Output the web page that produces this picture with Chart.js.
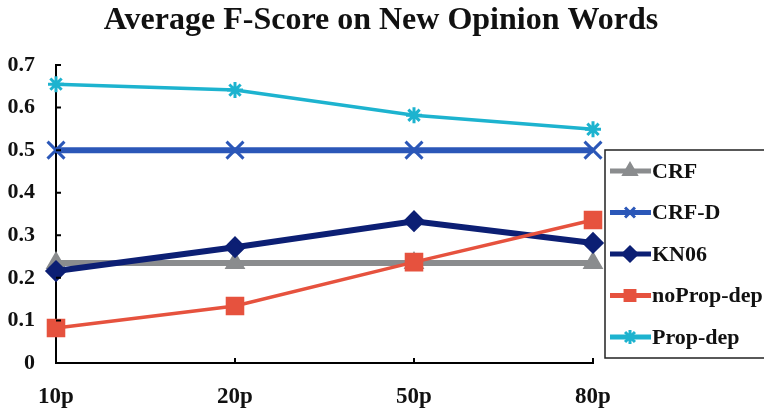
<!DOCTYPE html>
<html>
<head>
<meta charset="utf-8">
<script src="https://cdn.jsdelivr.net/npm/chart.js@4/dist/chart.umd.min.js"></script>
<style>
  body { margin: 0; background: #fff; }
  #wrap { width: 764px; height: 414px; }
</style>
</head>
<body>
<div id="wrap"><canvas id="chart" width="764" height="414"></canvas></div>
<script>
const labels = ['10p', '20p', '50p', '80p'];
const crf = [0.235, 0.235, 0.235, 0.235];
const crfD = [0.5, 0.5, 0.5, 0.5];
const kn06 = [0.216, 0.272, 0.333, 0.282];
const noPropDep = [0.082, 0.134, 0.237, 0.336];
const propDep = [0.655, 0.641, 0.582, 0.549];
const yTicks = [0, 0.1, 0.2, 0.3, 0.4, 0.5, 0.6, 0.7];
const chartTitle = 'Average F-Score on New Opinion Words';

const serif = '"Liberation Serif", "DejaVu Serif", serif';

const series = [
    { label: 'CRF', data: crf, color: '#8a8c8e', width: 6, point: 'triangle', radius: 9, order: 5 },
    { label: 'CRF-D', data: crfD, color: '#2b57b8', width: 6, point: 'crossRot', radius: 12, order: 4 },
    { label: 'KN06', data: kn06, color: '#0c1f74', width: 6, point: 'rectRot', radius: 9, order: 3 },
    { label: 'noProp-dep', data: noPropDep, color: '#e6523e', width: 3.5, point: 'rect', radius: 11, order: 2 },
    { label: 'Prop-dep', data: propDep, color: '#1db3cf', width: 3.5, point: 'star', radius: 8, order: 1 }
];

// title centred on the whole picture, legend box on the right
const boxLegend = {
    id: 'boxLegend',
    afterDraw(chart) {
        const ctx = chart.ctx;
        ctx.save();
        ctx.fillStyle = '#111';
        ctx.font = 'bold 32px ' + serif;
        ctx.textAlign = 'center';
        ctx.textBaseline = 'middle';
        ctx.fillText(chartTitle, 381, 21);

        ctx.strokeStyle = '#222';
        ctx.lineWidth = 1.5;
        ctx.strokeRect(605, 150, 170, 208);
        chart.data.datasets.forEach((ds, i) => {
            const y = 171 + i * 41.5;
            ctx.strokeStyle = ds.borderColor;
            ctx.fillStyle = ds.borderColor;
            ctx.lineWidth = 5;
            ctx.beginPath();
            ctx.moveTo(610, y);
            ctx.lineTo(651, y);
            ctx.stroke();
            ctx.lineWidth = 3;
            Chart.helpers.drawPoint(ctx, { pointStyle: ds.pointStyle, radius: 7, borderWidth: 3 }, 630, y);
            ctx.fillStyle = '#111';
            ctx.font = 'bold 22px ' + serif;
            ctx.textBaseline = 'middle';
            ctx.textAlign = 'left';
            ctx.fillText(ds.label, 652, y + 1);
        });
        ctx.restore();
    }
};

// small inward tick marks on both axes
const innerTicks = {
    id: 'innerTicks',
    afterDatasetsDraw(chart) {
        const ctx = chart.ctx;
        const xs = chart.scales.x, ys = chart.scales.y;
        ctx.save();
        ctx.strokeStyle = '#000';
        ctx.lineWidth = 2;
        ctx.beginPath();
        yTicks.forEach(v => {
            const py = ys.getPixelForValue(v);
            ctx.moveTo(xs.left, py);
            ctx.lineTo(xs.left + 5, py);
        });
        labels.forEach((l, i) => {
            const px = xs.getPixelForValue(i);
            ctx.moveTo(px, ys.bottom);
            ctx.lineTo(px, ys.bottom - 5);
        });
        ctx.stroke();
        ctx.restore();
    }
};

new Chart(document.getElementById('chart'), {
    type: 'line',
    data: {
        labels: labels,
        datasets: series.map(s => ({
            label: s.label,
            data: s.data,
            borderColor: s.color,
            backgroundColor: s.color,
            pointBackgroundColor: s.color,
            pointBorderColor: s.color,
            borderWidth: s.width,
            pointStyle: s.point,
            pointRadius: s.radius,
            pointBorderWidth: 3,
            tension: 0,
            order: s.order
        }))
    },
    options: {
        responsive: false,
        animation: false,
        layout: { autoPadding: false, padding: { left: 5, right: 171, top: 65, bottom: 3 } },
        plugins: {
            legend: { display: false },
            tooltip: { enabled: false },
            title: { display: false }
        },
        scales: {
            x: {
                offset: false,
                grid: { display: false, drawTicks: false },
                border: { color: '#000', width: 2 },
                afterFit: s => { s.paddingLeft = 0; s.paddingRight = 0; s.height = 48; },
                ticks: {
                    color: '#111',
                    font: { family: serif, size: 23, weight: 'bold' },
                    padding: 20
                }
            },
            y: {
                min: 0,
                max: 0.7,
                afterBuildTicks: axis => { axis.ticks = yTicks.map(v => ({ value: v })); },
                afterFit: s => { s.paddingTop = 0; s.paddingBottom = 0; s.width = 51; },
                grid: { display: false, drawTicks: false },
                border: { color: '#000', width: 2 },
                ticks: {
                    color: '#111',
                    font: { family: serif, size: 22, weight: 'bold' },
                    padding: 21,
                    callback: v => v === 0 ? '0' : v.toFixed(1)
                }
            }
        }
    },
    plugins: [boxLegend, innerTicks]
});
</script>
</body>
</html>
